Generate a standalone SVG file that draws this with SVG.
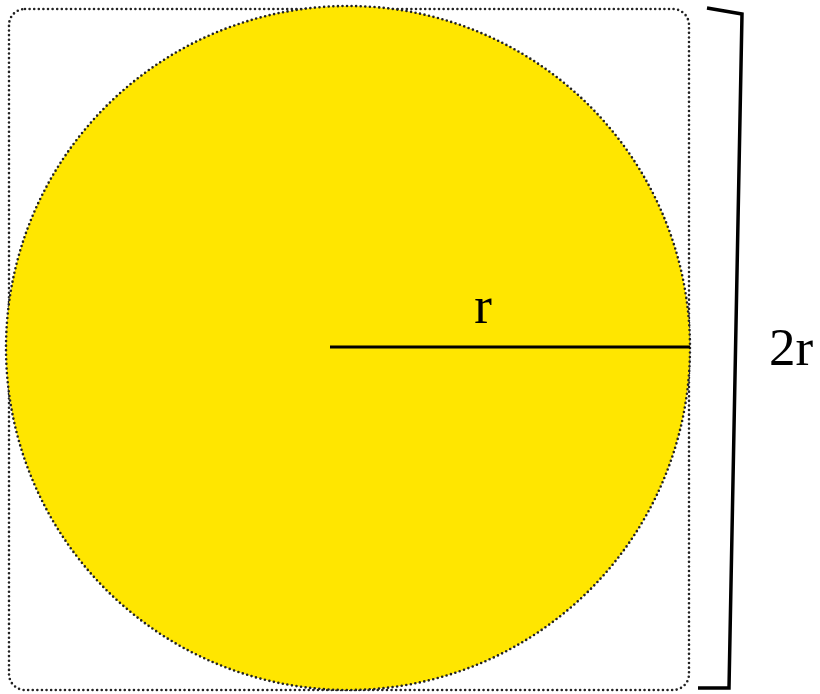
<svg xmlns="http://www.w3.org/2000/svg" width="820" height="694" viewBox="0 0 820 694">
<style>
.lbl{font-family:"Liberation Serif","Times New Roman",serif;font-size:53px;fill:#000}
.dot{stroke:#222;stroke-width:2.6;stroke-linecap:round;stroke-dasharray:0 4.6}
</style>
<rect width="820" height="694" fill="#fff"/>
<g id="square">
<rect class="dot" x="9" y="9" width="680" height="681" rx="16" ry="16" fill="none"/>
</g>
<g id="circle">
<circle class="dot" cx="348" cy="348" r="342" fill="#ffe600"/>
</g>
<g id="connectors">
<line x1="330" y1="347" x2="690" y2="347" stroke="#000" stroke-width="3"/>
<polyline points="707,8 742,14 729,688 698,688" fill="none" stroke="#000" stroke-width="3.5"/>
</g>
<g id="labels">
<text class="lbl" x="483" y="323" text-anchor="middle">r</text>
<text class="lbl" x="791" y="365" text-anchor="middle">2r</text>
</g>
</svg>
